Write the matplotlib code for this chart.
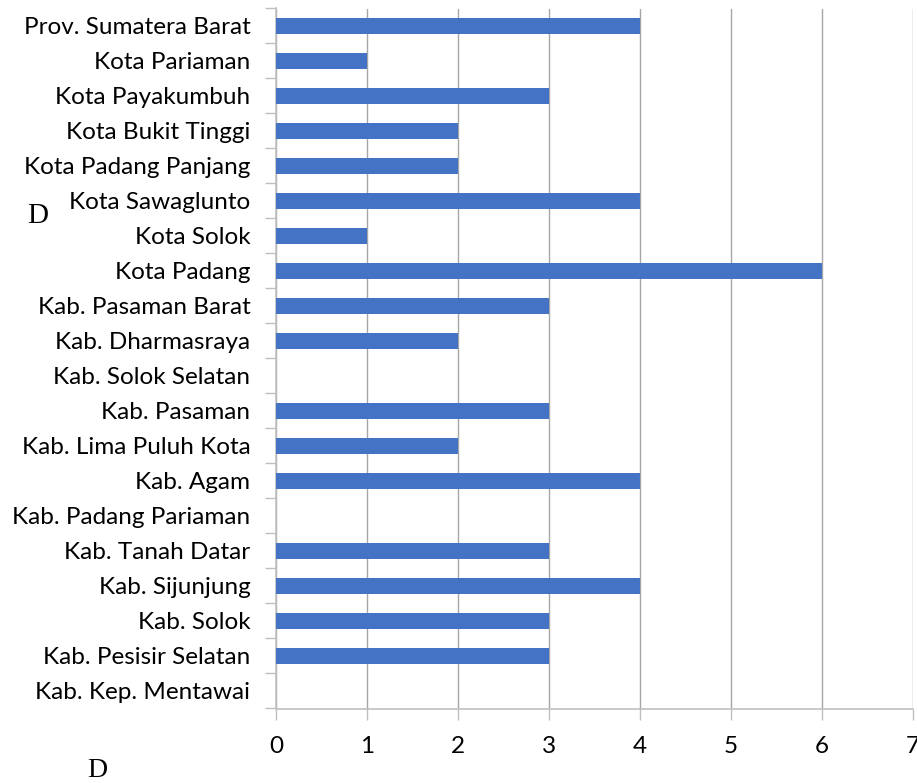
import matplotlib
matplotlib.use("Agg")
import matplotlib.pyplot as plt
from matplotlib.ticker import FixedLocator

categories = [
    "Prov. Sumatera Barat", "Kota Pariaman", "Kota Payakumbuh", "Kota Bukit Tinggi",
    "Kota Padang Panjang", "Kota Sawaglunto", "Kota Solok", "Kota Padang",
    "Kab. Pasaman Barat", "Kab. Dharmasraya", "Kab. Solok Selatan", "Kab. Pasaman",
    "Kab. Lima Puluh Kota", "Kab. Agam", "Kab. Padang Pariaman", "Kab. Tanah Datar",
    "Kab. Sijunjung", "Kab. Solok", "Kab. Pesisir Selatan", "Kab. Kep. Mentawai",
]
values = [4, 1, 3, 2, 2, 4, 1, 6, 3, 2, 0, 3, 2, 4, 0, 3, 4, 3, 3, 0]
xticks = [0, 1, 2, 3, 4, 5, 6, 7]

W, H = 917, 783
fig = plt.figure(figsize=(W / 100, H / 100), dpi=100)
left, right, top, bottom = 276, 913, 8.5, 708.5
ax = fig.add_axes([left / W, 1 - bottom / H, (right - left) / W, (bottom - top) / H])

n = len(categories)
ypos = list(range(n))
ax.barh(ypos, values, height=0.45, color="#4472c4", zorder=3)
ax.set_ylim(n - 0.5, -0.5)
ax.set_xlim(0, 7)

font = "Lato"
fs = 17.5
ax.set_yticks(ypos)
ax.set_yticklabels(categories, fontsize=fs, family=font, color="#000000")
ax.tick_params(axis="y", which="major", length=0, pad=18.5)
ax.yaxis.set_minor_locator(FixedLocator([i - 0.5 for i in range(n + 1)]))
ax.tick_params(axis="y", which="minor", length=8, color="#bfbfbf", width=1)

ax.set_xticks(xticks)
ax.set_xticklabels([str(t) for t in xticks], fontsize=fs, family=font)
ax.tick_params(axis="x", length=8, color="#bfbfbf", width=1, pad=12)

ax.grid(axis="x", color="#a6a6a6", linewidth=1, zorder=0)
for s in ["top", "right"]:
    ax.spines[s].set_visible(False)
for s in ["left", "bottom"]:
    ax.spines[s].set_color("#bfbfbf")
    ax.spines[s].set_linewidth(1.2)

fig.text(38 / W, 1 - 223 / H, "D", family="Liberation Serif", fontsize=21, ha="center", va="baseline")
fig.text(97 / W, 1 - 777 / H, "D", family="Liberation Serif", fontsize=20, ha="center", va="baseline")

fig.savefig("out.png", dpi=100)
